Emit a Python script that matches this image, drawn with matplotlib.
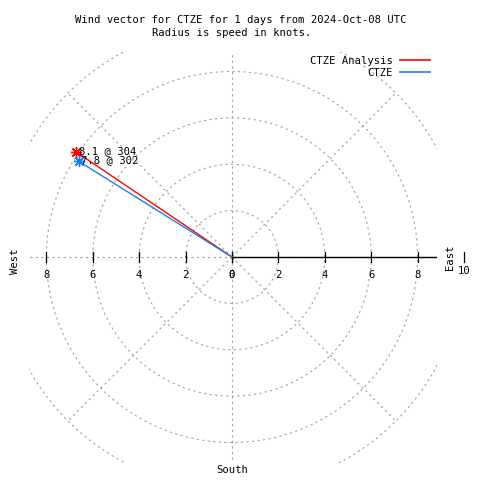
import numpy as np
import matplotlib.pyplot as plt
from matplotlib.lines import Line2D

# wind vectors: speed (knots) and direction (degrees, compass)
names = ["CTZE Analysis", "CTZE"]
speeds = [8.1, 7.8]
dirs = [304, 302]
colors = ["#ff0000", "#1a80f0"]

rings = [2, 4, 6, 8, 10]
spokes = [0, 45, 90, 135, 180, 225, 270, 315]
tick_vals = [2, 4, 6, 8]

plt.rcParams['font.family'] = 'DejaVu Sans Mono'
fs = 7.6
grid_kw = dict(color="#a0a0a0", lw=0.8, ls=(0, (2, 3)))

fig = plt.figure(figsize=(4.8, 4.8), dpi=100)
ax = fig.add_axes([29 / 480, 1 - 463 / 480, 408 / 480, 411 / 480])
ax.set_xlim(-8.75, 8.84)
ax.set_ylim(-8.88, 8.84)
ax.axis("off")

# polar grid
t = np.linspace(0, 2 * np.pi, 400)
for r in rings:
    ax.plot(r * np.cos(t), r * np.sin(t), **grid_kw)
for a in spokes:
    th = np.radians(a)
    ax.plot([0, 10 * np.cos(th)], [0, 10 * np.sin(th)], **grid_kw)

# r axis
ax.plot([0, 10], [0, 0], color="black", lw=1.0)
for v in [0] + tick_vals + [10]:
    for sx in (1, -1):
        if v == 10 and sx == -1:
            continue
        ax.plot([sx * v, sx * v], [-0.2, 0.2], color="black", lw=0.9, clip_on=False)
for v in [0] + tick_vals:
    ax.text(v, -0.78, str(v), ha="center", va="center", fontsize=fs)
    ax.text(-v, -0.78, str(v), ha="center", va="center", fontsize=fs)
ax.text(10, -0.6, "10", ha="center", va="center", fontsize=fs, clip_on=False)

ax.text(-9.35, -0.2, "West", rotation=90, ha="center", va="center", fontsize=fs)
ax.text(9.4, 0.0, "East", rotation=90, ha="center", va="center", fontsize=fs)
ax.text(0, -9.18, "South", ha="center", va="center", fontsize=fs)

# vectors
handles = []
for n, s, d, c in zip(names, speeds, dirs, colors):
    th = np.radians(90 - d)
    x, y = s * np.cos(th), s * np.sin(th)
    ax.plot([0, x], [0, y], color=c, lw=1.0)
    ax.plot([x], [y], marker=(8, 2, 0), ms=8, mew=1.0, color=c)
    ax.text(x + 0.12, y + 0.05, f"{s} @ {d}", ha="left", va="center", fontsize=fs)
    handles.append(Line2D([], [], color=c, lw=1.2, label=n))

fig.legend(handles=handles, loc="upper right", bbox_to_anchor=(430 / 480, 1 - 56 / 480),
           frameon=False, markerfirst=False, fontsize=fs, handlelength=2.8,
           handletextpad=0.7, labelspacing=0.15, borderpad=0, borderaxespad=0)

fig.text(241 / 480, 1 - 20 / 480, "Wind vector for CTZE for 1 days from 2024-Oct-08 UTC",
         ha="center", va="center", fontsize=fs)
fig.text(232 / 480, 1 - 33 / 480, "Radius is speed in knots.",
         ha="center", va="center", fontsize=fs)

fig.savefig("out.png", dpi=100)
